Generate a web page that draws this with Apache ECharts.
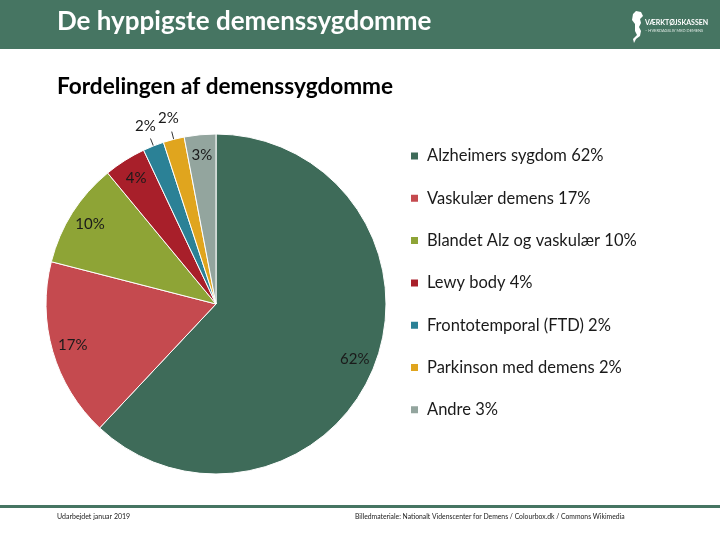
<!DOCTYPE html>
<html>
<head>
<meta charset="utf-8">
<script src="https://cdn.jsdelivr.net/npm/echarts@6/dist/echarts.min.js"></script>
<style>
html,body{margin:0;padding:0;background:#fff;}
#chart{width:720px;height:540px;}
</style>
</head>
<body>
<div id="chart"></div>
<script>
const categories = ["Alzheimers sygdom", "Vaskulær demens", "Blandet Alz og vaskulær", "Lewy body", "Frontotemporal (FTD)", "Parkinson med demens", "Andre"];
const values = [62, 17, 10, 4, 2, 2, 3];
const colors = ["#3e6b59", "#c54a4f", "#8ea436", "#a81f2a", "#2b8196", "#e0a51e", "#93a59e"];
const outsideLabelNames = ["Frontotemporal (FTD)", "Parkinson med demens"];

const FONT = 'Lato, "Open Sans", sans-serif';
const GREEN = '#467562';
const CX = 216, CY = 304, R = 170;

const mainData = categories.map((n, i) => ({
  name: n, value: values[i],
  itemStyle: { color: colors[i] },
  label: outsideLabelNames.includes(n)
    ? { show: true, position: 'outside', formatter: ' ', fontSize: 1 }
    : { show: false },
  labelLine: outsideLabelNames.includes(n)
    ? { show: true, length: 8, length2: 0, lineStyle: { color: '#333', width: 1 } }
    : { show: false }
}));

const innerLabelData = categories.map((n, i) => ({
  name: n, value: values[i],
  label: { show: !outsideLabelNames.includes(n) }
}));
const outerLabelData = categories.map((n, i) => ({
  name: n, value: values[i],
  label: { show: outsideLabelNames.includes(n) }
}));

const chart = echarts.init(document.getElementById('chart'), null, { renderer: 'canvas' });
chart.setOption({
  animation: false,
  backgroundColor: '#ffffff',
  color: colors,
  graphic: [
    { type: 'rect', shape: { x: 0, y: 0, width: 720, height: 49 }, style: { fill: GREEN }, silent: true },
    { type: 'text', x: 57, y: 22, style: { text: 'De hyppigste demenssygdomme', fill: '#ffffff', font: 'bold 26px ' + FONT, verticalAlign: 'middle' } },
    { type: 'text', x: 57, y: 87, style: { text: 'Fordelingen af demenssygdomme', fill: '#000000', font: 'bold 22.6px ' + FONT, verticalAlign: 'middle' } },
    { type: 'polygon', shape: { points: [[636,11],[641,12],[643,16],[640,19],[641,23],[639,27],[641,31],[640,36],[636,39],[634,43],[633,39],[637,35],[635,31],[635,24],[632,20],[633,14]] }, style: { fill: '#ffffff' }, silent: true },
    { type: 'text', x: 645, y: 19, style: { text: 'VÆRKTØJSKASSEN', fill: '#ffffff', font: 'bold 7px ' + FONT } },
    { type: 'text', x: 645, y: 29, style: { text: '– HVERDAGSLIV MED DEMENS', fill: '#dfe9e4', font: '4px ' + FONT } },
    { type: 'rect', shape: { x: 0, y: 505, width: 720, height: 3 }, style: { fill: GREEN }, silent: true },
    { type: 'text', x: 57, y: 513, style: { text: 'Udarbejdet januar 2019', fill: '#222', font: '7px ' + FONT } },
    { type: 'text', x: 355, y: 513, style: { text: 'Billedmateriale: Nationalt Videnscenter for Demens / Colourbox.dk / Commons Wikimedia', fill: '#222', font: '6.8px ' + FONT } }
  ],
  legend: {
    orient: 'vertical',
    left: 404,
    top: 142,
    itemWidth: 9,
    itemHeight: 9,
    icon: 'rect',
    itemGap: 24.3,
    data: categories,
    textStyle: { fontFamily: FONT, fontSize: 16.5, color: '#1a1a1a', lineHeight: 18, padding: [0, 0, 0, 3] },
    formatter: name => name + ' ' + values[categories.indexOf(name)] + '%'
  },
  series: [
    {
      type: 'pie',
      center: [CX, CY],
      radius: [0, R],
      startAngle: 90,
      clockwise: true,
      avoidLabelOverlap: false,
      itemStyle: { borderColor: '#ffffff', borderWidth: 1 },
      emphasis: { disabled: true },
      data: mainData,
      z: 2
    },
    {
      type: 'pie',
      center: [CX, CY],
      radius: [R * 0.72, R],
      startAngle: 90,
      silent: true,
      avoidLabelOverlap: false,
      itemStyle: { color: 'rgba(0,0,0,0)' },
      label: { position: 'inside', formatter: '{c}%', fontFamily: FONT, fontSize: 15, color: '#1a1a1a' },
      labelLine: { show: false },
      data: innerLabelData,
      z: 3
    },
    {
      type: 'pie',
      center: [CX, CY],
      radius: [R, R * 1.22],
      startAngle: 90,
      silent: true,
      avoidLabelOverlap: false,
      itemStyle: { color: 'rgba(0,0,0,0)' },
      label: { position: 'inside', formatter: '{c}%', fontFamily: FONT, fontSize: 15, color: '#1a1a1a' },
      labelLine: { show: false },
      data: outerLabelData,
      z: 3
    }
  ]
});
</script>
</body>
</html>
